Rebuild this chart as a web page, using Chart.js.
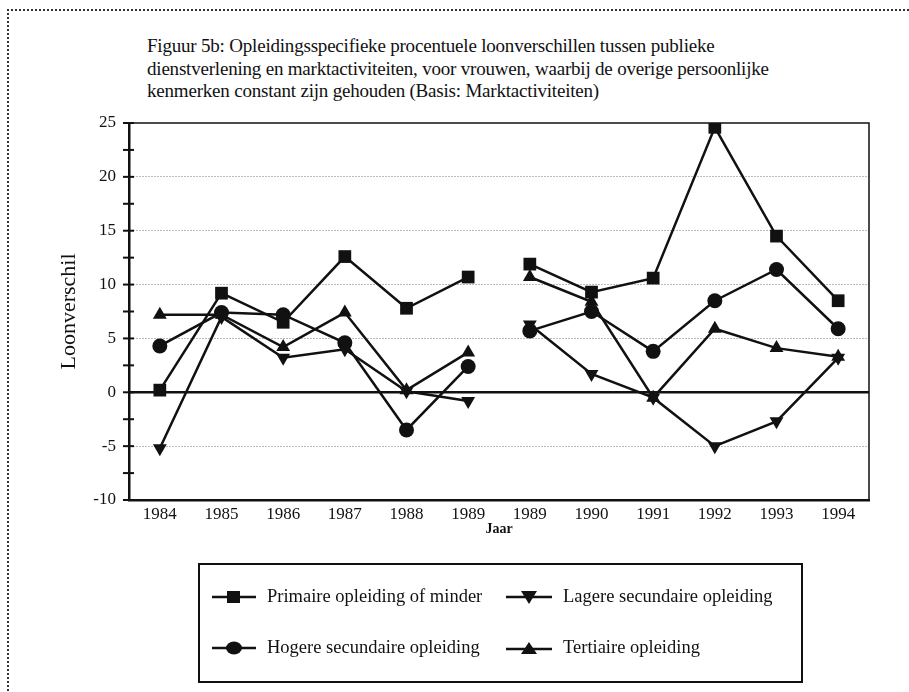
<!DOCTYPE html>
<html>
<head>
<meta charset="utf-8">
<script src="https://cdn.jsdelivr.net/npm/chart.js@4.4.1/dist/chart.umd.min.js"></script>
<style>
  html, body { margin: 0; padding: 0; background: #fff; }
  #wrap { position: relative; width: 909px; height: 692px; overflow: hidden; font-family: "Liberation Serif", "Times New Roman", serif; color: #111; }
  #frame { position: absolute; left: 7px; top: 9px; width: 920px; height: 700px; border-top: 2px dotted #333; border-left: 2px dotted #333; }
  #chart { position: absolute; left: 0; top: 0; }
  #title { position: absolute; left: 147px; top: 35px; font-size: 19px; line-height: 22.5px; letter-spacing: -0.2px; }
  #legend { position: absolute; left: 198px; top: 563px; width: 605px; height: 120px; border: 2px solid #111; box-sizing: border-box; }
  .item { position: absolute; display: flex; align-items: center; font-size: 18.5px; white-space: nowrap; }
  .item svg { margin-right: 10px; }
</style>
</head>
<body>
<div id="wrap">
  <div id="frame"></div>
  <div id="title">Figuur 5b: Opleidingsspecifieke procentuele loonverschillen tussen publieke<br>dienstverlening en marktactiviteiten, voor vrouwen, waarbij de overige persoonlijke<br>kenmerken constant zijn gehouden (Basis: Marktactiviteiten)</div>
  <canvas id="chart" width="909" height="692"></canvas>
  <div id="legend">
    <div class="item" style="left:11px; top:21px;">
      <svg width="46" height="16"><line x1="1" y1="8" x2="45" y2="8" stroke="#111" stroke-width="2.5"/><rect x="16" y="2" width="13" height="12" fill="#111"/></svg>Primaire opleiding of minder</div>
    <div class="item" style="left:305px; top:21px;">
      <svg width="48" height="16"><line x1="1" y1="8" x2="47" y2="8" stroke="#111" stroke-width="2.5"/><polygon points="16,2 32,2 24,15" fill="#111"/></svg>Lagere secundaire opleiding</div>
    <div class="item" style="left:11px; top:72px;">
      <svg width="46" height="16"><line x1="1" y1="8" x2="45" y2="8" stroke="#111" stroke-width="2.5"/><ellipse cx="23" cy="8" rx="8" ry="6.5" fill="#111"/></svg>Hogere secundaire opleiding</div>
    <div class="item" style="left:305px; top:72px;">
      <svg width="48" height="16"><line x1="1" y1="9" x2="47" y2="9" stroke="#111" stroke-width="2.5"/><polygon points="16,14 32,14 24,2" fill="#111"/></svg>Tertiaire opleiding</div>
  </div>
</div>
<script>
// Data (second 1989 starts the new series)
const jaren = ['1984', '1985', '1986', '1987', '1988', '1989', '1989', '1990', '1991', '1992', '1993', '1994'];
const primaire = [0.2, 9.2, 6.5, 12.6, 7.8, 10.7, 11.9, 9.3, 10.6, 24.6, 14.5, 8.5];
const lagereSec = [-5.2, 7.0, 3.2, 4.0, 0.1, -0.8, 6.3, 1.7, -0.5, -5.0, -2.7, 3.2];
const hogereSec = [4.3, 7.4, 7.2, 4.6, -3.5, 2.4, 5.7, 7.5, 3.8, 8.5, 11.4, 5.9];
const tertiair = [7.2, 7.2, 4.2, 7.4, 0.2, 3.7, 10.7, 8.4, -0.5, 5.9, 4.1, 3.3];
const yTicks = [-10, -5, 0, 5, 10, 15, 20, 25];

const breakAfter = 5; // no line between the two 1989 points
const ink = '#111';

function serie(label, data, style, radius, rotation) {
    return {
        label: label,
        data: data,
        borderColor: ink,
        backgroundColor: ink,
        borderWidth: 2.5,
        pointStyle: style,
        pointRadius: radius,
        pointRotation: rotation || 0,
        pointBackgroundColor: ink,
        pointBorderColor: ink,
        pointBorderWidth: 0,
        tension: 0,
        segment: {
            borderColor: ctx => ctx.p0DataIndex === breakAfter ? 'rgba(0,0,0,0)' : ink
        }
    };
}

// top/right frame, zero line and small tick marks across the y axis
const framePlugin = {
    id: 'framePlugin',
    afterDatasetsDraw(chart) {
        const { ctx, chartArea: a, scales: { y } } = chart;
        ctx.save();
        ctx.strokeStyle = ink;
        ctx.lineWidth = 1.5;
        ctx.beginPath();
        ctx.moveTo(a.left, a.top);
        ctx.lineTo(a.right, a.top);
        ctx.lineTo(a.right, a.bottom);
        ctx.stroke();

        const y0 = y.getPixelForValue(0);
        ctx.lineWidth = 2.5;
        ctx.beginPath();
        ctx.moveTo(a.left, y0);
        ctx.lineTo(a.right, y0);
        ctx.stroke();

        ctx.lineWidth = 2;
        y.ticks.forEach(t => {
            const py = y.getPixelForValue(t.value);
            ctx.beginPath();
            ctx.moveTo(a.left - 6, py);
            ctx.lineTo(a.left + 5, py);
            ctx.stroke();
        });
        ctx.restore();
    }
};

const chart = new Chart(document.getElementById('chart'), {
    type: 'line',
    data: {
        labels: jaren,
        datasets: [
            serie('Primaire opleiding of minder', primaire, 'rect', 9),
            serie('Lagere secundaire opleiding', lagereSec, 'triangle', 8, 180),
            serie('Hogere secundaire opleiding', hogereSec, 'circle', 7.5),
            serie('Tertiaire opleiding', tertiair, 'triangle', 8)
        ]
    },
    options: {
        responsive: false,
        animation: false,
        layout: { padding: { left: 56, right: 40, top: 123, bottom: 150 } },
        plugins: {
            legend: { display: false },
            tooltip: { enabled: false }
        },
        scales: {
            x: {
                offset: true,
                grid: { display: false, drawTicks: false },
                border: { display: true, color: ink, width: 2.5 },
                ticks: { color: ink, font: { family: 'Liberation Serif', size: 17 }, padding: 4, maxRotation: 0, autoSkip: false },
                title: { display: true, text: 'Jaar', color: ink, font: { family: 'Liberation Serif', size: 14, weight: 'bold' }, padding: { top: 0, bottom: 4 } },
                afterFit(scale) { scale.height = 42; }
            },
            y: {
                min: -10,
                max: 25,
                border: { display: true, color: ink, width: 2.5, dash: [1, 2] },
                grid: {
                    drawTicks: false,
                    lineWidth: 1,
                    color: ctx => {
                        const v = ctx.tick ? ctx.tick.value : null;
                        return (v !== null && v % 5 === 0 && v !== 0 && v !== 25 && v !== -10) ? '#777' : 'rgba(0,0,0,0)';
                    }
                },
                ticks: {
                    stepSize: 2.5,
                    color: ink,
                    padding: 13,
                    font: { family: 'Liberation Serif', size: 17 },
                    callback: v => yTicks.includes(v) ? v : ''
                },
                title: { display: true, text: 'Loonverschil', color: ink, font: { family: 'Liberation Serif', size: 22 }, padding: { top: 0, bottom: 0 } },
                afterFit(scale) { scale.width = 73; }
            }
        }
    },
    plugins: [framePlugin]
});
</script>
</body>
</html>
